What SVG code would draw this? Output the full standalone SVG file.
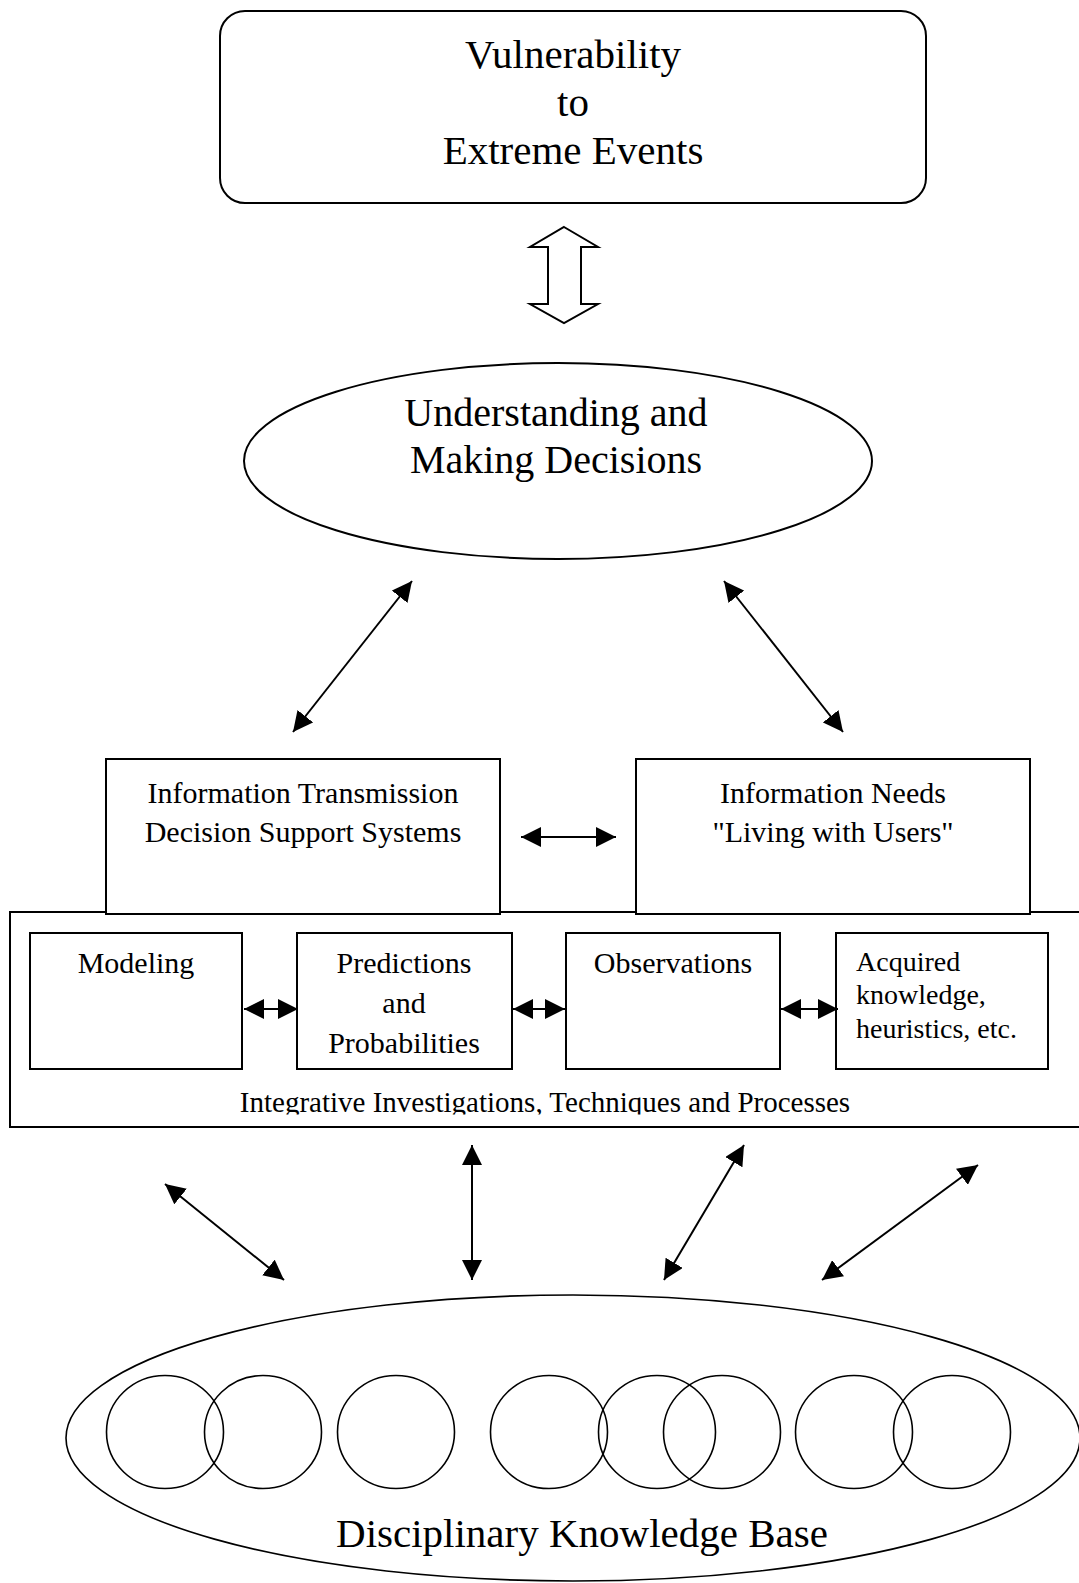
<svg xmlns="http://www.w3.org/2000/svg" width="1079" height="1583" viewBox="0 0 1079 1583">
  <style>
    .shape { fill: #fff; stroke: #000; stroke-width: 2; }
    .thin { fill: none; stroke: #000; stroke-width: 1.6; }
    .conn { stroke: #000; stroke-width: 2; fill: none; marker-start: url(#head); marker-end: url(#head); }
    text { font-family: "Liberation Serif", "Times New Roman", serif; fill: #000; }
    .big { font-size: 41px; text-anchor: middle; }
    .mid { font-size: 30px; text-anchor: middle; }
    .small { font-size: 28px; }
  </style>
  <defs>
    <marker id="head" markerUnits="userSpaceOnUse" viewBox="0 0 20 20" markerWidth="20" markerHeight="20" refX="20" refY="10" orient="auto-start-reverse">
      <path d="M0,0 L20,10 L0,20 Z" fill="#000"/>
    </marker>
    <clipPath id="clipIntegr">
      <rect x="10" y="1070" width="1075" height="44.5"/>
    </clipPath>
  </defs>
  <rect width="1079" height="1583" fill="#fff"/>

  <g id="vulnerability">
    <rect class="shape" x="220" y="11" width="706" height="192" rx="25" ry="25"/>
    <text class="big" x="573" y="68">Vulnerability</text>
    <text class="big" x="573" y="116">to</text>
    <text class="big" x="573" y="164">Extreme Events</text>
  </g>

  <g id="understanding">
    <ellipse class="shape" cx="558" cy="461" rx="314" ry="98"/>
    <text class="big" x="556" y="426" style="font-size:40px">Understanding and</text>
    <text class="big" x="556" y="473" style="font-size:40px">Making Decisions</text>
  </g>

  <g id="integrative">
    <rect class="shape" x="10" y="912" width="1075" height="215"/>
    <text class="mid" x="545" y="1112" style="font-size:29px" clip-path="url(#clipIntegr)">Integrative Investigations, Techniques and Processes</text>
  </g>

  <g id="transmission">
    <rect class="shape" x="106" y="759" width="394" height="155"/>
    <text class="mid" x="303" y="803">Information Transmission</text>
    <text class="mid" x="303" y="842">Decision Support Systems</text>
  </g>

  <g id="needs">
    <rect class="shape" x="636" y="759" width="394" height="155"/>
    <text class="mid" x="833" y="803">Information Needs</text>
    <text class="mid" x="833" y="842">"Living with Users"</text>
  </g>

  <g id="modeling">
    <rect class="shape" x="30" y="933" width="212" height="136"/>
    <text class="mid" x="136" y="973">Modeling</text>
  </g>

  <g id="predictions">
    <rect class="shape" x="297" y="933" width="215" height="136"/>
    <text class="mid" x="404" y="973">Predictions</text>
    <text class="mid" x="404" y="1013">and</text>
    <text class="mid" x="404" y="1053">Probabilities</text>
  </g>

  <g id="observations">
    <rect class="shape" x="566" y="933" width="214" height="136"/>
    <text class="mid" x="673" y="973">Observations</text>
  </g>

  <g id="acquired">
    <rect class="shape" x="836" y="933" width="212" height="136"/>
    <text class="small" x="856" y="971">Acquired</text>
    <text class="small" x="856" y="1004">knowledge,</text>
    <text class="small" x="856" y="1038">heuristics, etc.</text>
  </g>

  <g id="knowledge-base">
    <ellipse class="thin" cx="573" cy="1438" rx="507" ry="143"/>
    <ellipse class="thin" cx="165" cy="1432" rx="58.5" ry="56.5"/>
    <ellipse class="thin" cx="263" cy="1432" rx="58.5" ry="56.5"/>
    <ellipse class="thin" cx="396" cy="1432" rx="58.5" ry="56.5"/>
    <ellipse class="thin" cx="549" cy="1432" rx="58.5" ry="56.5"/>
    <ellipse class="thin" cx="657" cy="1432" rx="58.5" ry="56.5"/>
    <ellipse class="thin" cx="722" cy="1432" rx="58.5" ry="56.5"/>
    <ellipse class="thin" cx="854" cy="1432" rx="58.5" ry="56.5"/>
    <ellipse class="thin" cx="952" cy="1432" rx="58.5" ry="56.5"/>
    <text class="big" x="582" y="1547">Disciplinary Knowledge Base</text>
  </g>

  <g id="connectors">
    <polygon class="shape" points="564,227 598,247 581,247 581,304 598,304 564,323 530,304 548,304 548,247 530,247"/>
    <line class="conn" x1="412" y1="581" x2="293" y2="732"/>
    <line class="conn" x1="724" y1="581" x2="843" y2="732"/>
    <line class="conn" x1="521" y1="837" x2="616" y2="837"/>
    <line class="conn" x1="244" y1="1009" x2="298" y2="1009"/>
    <line class="conn" x1="513" y1="1009" x2="565" y2="1009"/>
    <line class="conn" x1="781" y1="1009" x2="838" y2="1009"/>
    <line class="conn" x1="165" y1="1184" x2="284" y2="1280"/>
    <line class="conn" x1="472" y1="1145" x2="472" y2="1280"/>
    <line class="conn" x1="744" y1="1145" x2="664" y2="1280"/>
    <line class="conn" x1="978" y1="1165" x2="822" y2="1280"/>
  </g>
</svg>
